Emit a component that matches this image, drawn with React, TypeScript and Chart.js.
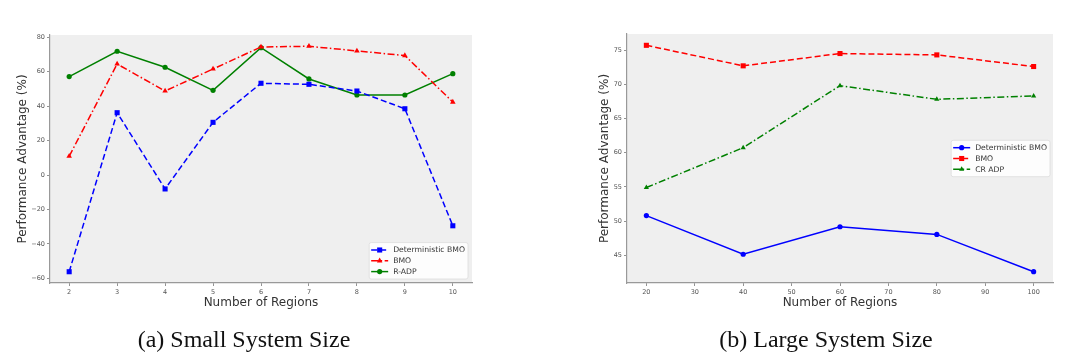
import React, { useEffect, useRef } from 'react';
import { Chart, registerables } from 'chart.js';

Chart.register(...registerables);

// ---------- Data: (a) Small System Size ----------
const smallRegions = [2, 3, 4, 5, 6, 7, 8, 9, 10];
const smallDetBMO = [-56.2, 36.2, -8.1, 30.6, 53.3, 52.7, 48.8, 38.5, -29.5];
const smallBMO = [10.9, 64.5, 48.8, 61.6, 74.4, 74.8, 72.1, 69.4, 42.4];
const smallRADP = [57.2, 71.9, 62.6, 49.2, 74.0, 55.8, 46.5, 46.5, 58.9];
const smallXTicks = [2, 3, 4, 5, 6, 7, 8, 9, 10];
const smallYTicks = [-60, -40, -20, 0, 20, 40, 60, 80];

// ---------- Data: (b) Large System Size ----------
const largeRegions = [20, 40, 60, 80, 100];
const largeDetBMO = [50.8, 45.15, 49.17, 48.05, 42.6];
const largeBMO = [75.7, 72.7, 74.5, 74.3, 72.6];
const largeCRADP = [54.9, 60.73, 69.8, 67.8, 68.3];
const largeXTicks = [20, 30, 40, 50, 60, 70, 80, 90, 100];
const largeYTicks = [45, 50, 55, 60, 65, 70, 75];

const xTitle = 'Number of Regions';
const yTitle = 'Performance Advantage (%)';
const captionA = '(a) Small System Size';
const captionB = '(b) Large System Size';

const FONT = '"DejaVu Sans", sans-serif';
const BLUE = '#0000ff';
const RED = '#ff0000';
const GREEN = '#008000';
const DASHED = [6, 3];
const DASHDOT = [7, 2.5, 1.5, 2.5];

function padRange(values: number[]): [number, number] {
  const lo = Math.min(...values);
  const hi = Math.max(...values);
  const m = (hi - lo) * 0.05;
  return [lo - m, hi + m];
}

function drawMarker(ctx: CanvasRenderingContext2D, style: string, x: number, y: number, r: number, color: string) {
  ctx.save();
  ctx.fillStyle = color;
  ctx.beginPath();
  if (style === 'rect') {
    const s = r * Math.SQRT1_2;
    ctx.rect(x - s, y - s, 2 * s, 2 * s);
  } else if (style === 'triangle') {
    ctx.moveTo(x, y - r);
    ctx.lineTo(x + r * 0.866, y + r * 0.5);
    ctx.lineTo(x - r * 0.866, y + r * 0.5);
    ctx.closePath();
  } else {
    ctx.arc(x, y, r, 0, Math.PI * 2);
  }
  ctx.fill();
  ctx.restore();
}

const plotBgPlugin = {
  id: 'plotBg',
  beforeDraw(chart: any) {
    const { ctx, chartArea: a } = chart;
    ctx.save();
    ctx.fillStyle = '#efefef';
    ctx.fillRect(a.left, a.top, a.right - a.left, a.bottom - a.top);
    ctx.restore();
  },
};

const mplLegendPlugin = {
  id: 'mplLegend',
  afterDraw(chart: any, _args: any, opts: any) {
    const { ctx, chartArea: a } = chart;
    const items = chart.data.datasets;
    ctx.save();
    ctx.font = `${opts.fontSize}px ${FONT}`;
    const textW = Math.max(...items.map((d: any) => ctx.measureText(d.label).width));
    const rowH = 10.8;
    const padX = 2;
    const lineLen = 17;
    const gap = 5;
    const padR = 3;
    const padY = 2;
    const w = padX + lineLen + gap + textW + padR;
    const h = items.length * rowH + padY * 2;
    const x = a.right - opts.margin - w;
    const y = opts.loc === 'lower right' ? a.bottom - opts.margin - h : (a.top + a.bottom) / 2 - h / 2;
    ctx.fillStyle = 'rgba(255,255,255,0.85)';
    ctx.strokeStyle = '#dcdcdc';
    ctx.lineWidth = 0.8;
    ctx.beginPath();
    (ctx as any).roundRect(x, y, w, h, 2);
    ctx.fill();
    ctx.stroke();
    items.forEach((d: any, i: number) => {
      const cy = y + padY + rowH * (i + 0.5);
      ctx.strokeStyle = d.borderColor;
      ctx.lineWidth = d.borderWidth;
      ctx.setLineDash(d.borderDash || []);
      ctx.beginPath();
      ctx.moveTo(x + padX, cy);
      ctx.lineTo(x + padX + lineLen, cy);
      ctx.stroke();
      ctx.setLineDash([]);
      drawMarker(ctx, d.pointStyle, x + padX + lineLen / 2, cy, d.pointRadius, d.borderColor);
      ctx.fillStyle = '#333';
      ctx.textAlign = 'left';
      ctx.textBaseline = 'middle';
      ctx.fillText(d.label, x + padX + lineLen + gap, cy + 0.5);
    });
    ctx.restore();
  },
};

function ds(label: string, xs: number[], ys: number[], color: string, dash: number[], pointStyle: string, radius: number) {
  return {
    label,
    data: xs.map((x, i) => ({ x, y: ys[i] })),
    borderColor: color,
    backgroundColor: color,
    pointBackgroundColor: color,
    pointBorderColor: color,
    borderWidth: 1.5,
    borderDash: dash,
    pointStyle,
    pointRadius: radius,
    pointBorderWidth: 0,
    tension: 0,
    fill: false,
  };
}

function makeOptions(cfg: {
  xs: number[]; allY: number[]; xTicks: number[]; yTicks: number[];
  padTop: number; padRight: number; yWidth: number; xHeight: number; yTitlePad: number; legendLoc: string;
}) {
  const [xmin, xmax] = padRange(cfg.xs);
  const [ymin, ymax] = padRange(cfg.allY);
  const tickFont = { size: 6.5, family: FONT };
  const titleFont = { size: 12, family: FONT };
  return {
    animation: false,
    responsive: false,
    maintainAspectRatio: false,
    layout: { padding: { top: cfg.padTop, right: cfg.padRight, left: 0, bottom: 0 } },
    plugins: {
      legend: { display: false },
      tooltip: { enabled: false },
      mplLegend: { loc: cfg.legendLoc, margin: cfg.legendLoc === 'lower right' ? 4 : 3, fontSize: 7.7 },
    },
    scales: {
      x: {
        type: 'linear',
        min: xmin,
        max: xmax,
        afterBuildTicks: (s: any) => { s.ticks = cfg.xTicks.map((v) => ({ value: v })); },
        afterFit: (s: any) => { s.height = cfg.xHeight; },
        grid: { display: true, drawOnChartArea: false, drawTicks: true, tickLength: 3, tickColor: '#777', tickWidth: 0.8 },
        border: { display: true, color: '#999', width: 1.2 },
        ticks: { font: tickFont, color: '#555', padding: 2, maxRotation: 0, autoSkip: false, callback: (v: any) => String(v) },
        title: { display: true, text: xTitle, font: titleFont, color: '#333', padding: { top: 0, bottom: 19.8 } },
      },
      y: {
        type: 'linear',
        min: ymin,
        max: ymax,
        afterBuildTicks: (s: any) => { s.ticks = cfg.yTicks.map((v) => ({ value: v })); },
        afterFit: (s: any) => { s.width = cfg.yWidth; },
        grid: { display: true, drawOnChartArea: false, drawTicks: true, tickLength: 3, tickColor: '#777', tickWidth: 0.8 },
        border: { display: true, color: '#999', width: 1.2 },
        ticks: { font: tickFont, color: '#555', padding: 2, autoSkip: false, callback: (v: any) => String(v).replace('-', '\u2212') },
        title: { display: true, text: yTitle, font: titleFont, color: '#333', padding: { top: cfg.yTitlePad, bottom: 0 } },
      },
    },
  };
}

function SmallChart() {
  const ref = useRef<HTMLCanvasElement>(null);
  useEffect(() => {
    const chart = new Chart(ref.current as HTMLCanvasElement, {
      type: 'line',
      data: {
        datasets: [
          ds('Deterministic BMO', smallRegions, smallDetBMO, BLUE, DASHED, 'rect', 3.6),
          ds('BMO', smallRegions, smallBMO, RED, DASHDOT, 'triangle', 3.2),
          ds('R-ADP', smallRegions, smallRADP, GREEN, [], 'circle', 2.6),
        ],
      },
      options: makeOptions({
        xs: smallRegions,
        allY: [...smallDetBMO, ...smallBMO, ...smallRADP],
        xTicks: smallXTicks,
        yTicks: smallYTicks,
        padTop: 35,
        padRight: 68,
        yWidth: 50,
        xHeight: 47,
        yTitlePad: 15.8,
        legendLoc: 'lower right',
      }) as any,
      plugins: [plotBgPlugin, mplLegendPlugin],
    });
    return () => chart.destroy();
  }, []);
  return <canvas ref={ref} width={540} height={330} style={{ position: 'absolute', left: 0, top: 0, width: 540, height: 330 }} />;
}

function LargeChart() {
  const ref = useRef<HTMLCanvasElement>(null);
  useEffect(() => {
    const chart = new Chart(ref.current as HTMLCanvasElement, {
      type: 'line',
      data: {
        datasets: [
          ds('Deterministic BMO', largeRegions, largeDetBMO, BLUE, [], 'circle', 2.6),
          ds('BMO', largeRegions, largeBMO, RED, DASHED, 'rect', 3.6),
          ds('CR ADP', largeRegions, largeCRADP, GREEN, DASHDOT, 'triangle', 3.0),
        ],
      },
      options: makeOptions({
        xs: largeRegions,
        allY: [...largeDetBMO, ...largeBMO, ...largeCRADP],
        xTicks: largeXTicks,
        yTicks: largeYTicks,
        padTop: 34,
        padRight: 27,
        yWidth: 87,
        xHeight: 47,
        yTitlePad: 57.8,
        legendLoc: 'center right',
      }) as any,
      plugins: [plotBgPlugin, mplLegendPlugin],
    });
    return () => chart.destroy();
  }, []);
  return <canvas ref={ref} width={540} height={330} style={{ position: 'absolute', left: 540, top: 0, width: 540, height: 330 }} />;
}

const captionStyle: React.CSSProperties = {
  position: 'absolute',
  top: 326,
  width: 300,
  textAlign: 'center',
  fontFamily: '"Liberation Serif", "Times New Roman", serif',
  fontSize: 24,
  lineHeight: '26px',
  color: '#111',
  whiteSpace: 'nowrap',
};

export default function App() {
  return (
    <div style={{ position: 'absolute', left: 0, top: 0, width: 1080, height: 359, background: '#fff', overflow: 'hidden' }}>
      <SmallChart />
      <LargeChart />
      <div style={{ ...captionStyle, left: 244 - 150 }}>{captionA}</div>
      <div style={{ ...captionStyle, left: 826 - 150 }}>{captionB}</div>
    </div>
  );
}
